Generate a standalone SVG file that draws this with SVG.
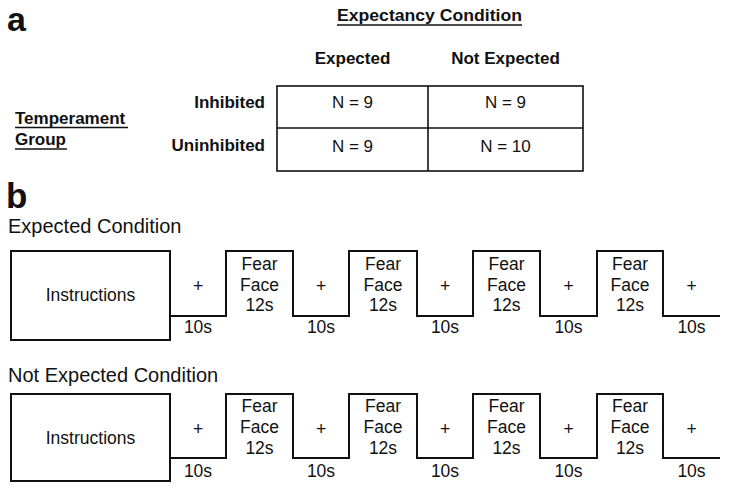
<svg xmlns="http://www.w3.org/2000/svg" width="729" height="491" viewBox="0 0 729 491">
<style>
text{font-family:"Liberation Sans",Arial,sans-serif;fill:#111}
.hb{font-weight:bold;font-size:17px}
.cell{font-size:17px;text-anchor:middle}
.lt{font-size:17.5px;text-anchor:middle}
.ttl{font-size:20px}
.ln{fill:none;stroke:#111;stroke-width:2;stroke-linejoin:miter}
.tb{fill:none;stroke:#111;stroke-width:1.6}
.ul{stroke:#111;stroke-width:1.3}
</style>
<rect width="729" height="491" fill="#fff"/>
<g id="panel-a">
<text x="7" y="31" style="font-weight:bold;font-size:34px">a</text>
<g id="header">
<text class="hb" x="337" y="20.5" textLength="185" lengthAdjust="spacingAndGlyphs">Expectancy Condition</text>
<line class="ul" x1="337" y1="25" x2="522" y2="25"/>
<text class="hb" x="352.5" y="64" text-anchor="middle">Expected</text>
<text class="hb" x="505.5" y="64" text-anchor="middle">Not Expected</text>
</g>
<g id="rowlabels">
<text class="hb" x="15" y="124">Temperament</text>
<line class="ul" x1="15" y1="127.5" x2="128" y2="127.5"/>
<text class="hb" x="15" y="145">Group</text>
<line class="ul" x1="15" y1="149" x2="67" y2="149"/>
<text class="hb" x="265" y="108" text-anchor="end">Inhibited</text>
<text class="hb" x="265" y="151" text-anchor="end">Uninhibited</text>
</g>
<g id="table">
<rect class="tb" x="277" y="86" width="306" height="85"/>
<line class="tb" x1="428" y1="86" x2="428" y2="171"/>
<line class="tb" x1="277" y1="128" x2="583" y2="128"/>
<text class="cell" x="352.5" y="108">N = 9</text>
<text class="cell" x="505.5" y="108">N = 9</text>
<text class="cell" x="352.5" y="152">N = 9</text>
<text class="cell" x="505.5" y="152">N = 10</text>
</g>
</g>
<g id="panel-b">
<text x="6" y="208" style="font-weight:bold;font-size:35px">b</text>
<g id="expected">
<text class="ttl" x="8" y="233">Expected Condition</text>
<rect class="ln" x="11" y="251" width="159" height="89"/>
<polyline class="ln" points="170,316 226,316 226,251 293,251 293,316 349,316 349,251 417,251 417,316 473,316 473,251 540,251 540,316 597,316 597,251 663,251 663,316 720,316"/>
<text class="lt" x="90.5" y="301">Instructions</text>
<g class="lt">
<text class="lt" x="198" y="292">+</text><text class="lt" x="321" y="292">+</text><text class="lt" x="445" y="292">+</text><text class="lt" x="568.5" y="292">+</text><text class="lt" x="691.5" y="292">+</text>
<text class="lt" x="198" y="333">10s</text><text class="lt" x="321" y="333">10s</text><text class="lt" x="445" y="333">10s</text><text class="lt" x="568.5" y="333">10s</text><text class="lt" x="691.5" y="333">10s</text>
<text class="lt" x="259.5" y="270">Fear</text><text class="lt" x="259.5" y="291">Face</text><text class="lt" x="259.5" y="311">12s</text>
<text class="lt" x="383" y="270">Fear</text><text class="lt" x="383" y="291">Face</text><text class="lt" x="383" y="311">12s</text>
<text class="lt" x="506.5" y="270">Fear</text><text class="lt" x="506.5" y="291">Face</text><text class="lt" x="506.5" y="311">12s</text>
<text class="lt" x="630" y="270">Fear</text><text class="lt" x="630" y="291">Face</text><text class="lt" x="630" y="311">12s</text>
</g>
</g>
<g id="not-expected">
<text class="ttl" x="8" y="382">Not Expected Condition</text>
<rect class="ln" x="11" y="394" width="159" height="87"/>
<polyline class="ln" points="170,458 226,458 226,394 293,394 293,458 349,458 349,394 417,394 417,458 473,458 473,394 540,394 540,458 597,458 597,394 663,394 663,458 720,458"/>
<text class="lt" x="90.5" y="444">Instructions</text>
<g class="lt">
<text class="lt" x="198" y="435">+</text><text class="lt" x="321" y="435">+</text><text class="lt" x="445" y="435">+</text><text class="lt" x="568.5" y="435">+</text><text class="lt" x="691.5" y="435">+</text>
<text class="lt" x="198" y="477">10s</text><text class="lt" x="321" y="477">10s</text><text class="lt" x="445" y="477">10s</text><text class="lt" x="568.5" y="477">10s</text><text class="lt" x="691.5" y="477">10s</text>
<text class="lt" x="259.5" y="412">Fear</text><text class="lt" x="259.5" y="433">Face</text><text class="lt" x="259.5" y="454">12s</text>
<text class="lt" x="383" y="412">Fear</text><text class="lt" x="383" y="433">Face</text><text class="lt" x="383" y="454">12s</text>
<text class="lt" x="506.5" y="412">Fear</text><text class="lt" x="506.5" y="433">Face</text><text class="lt" x="506.5" y="454">12s</text>
<text class="lt" x="630" y="412">Fear</text><text class="lt" x="630" y="433">Face</text><text class="lt" x="630" y="454">12s</text>
</g>
</g>
</g>
</svg>
